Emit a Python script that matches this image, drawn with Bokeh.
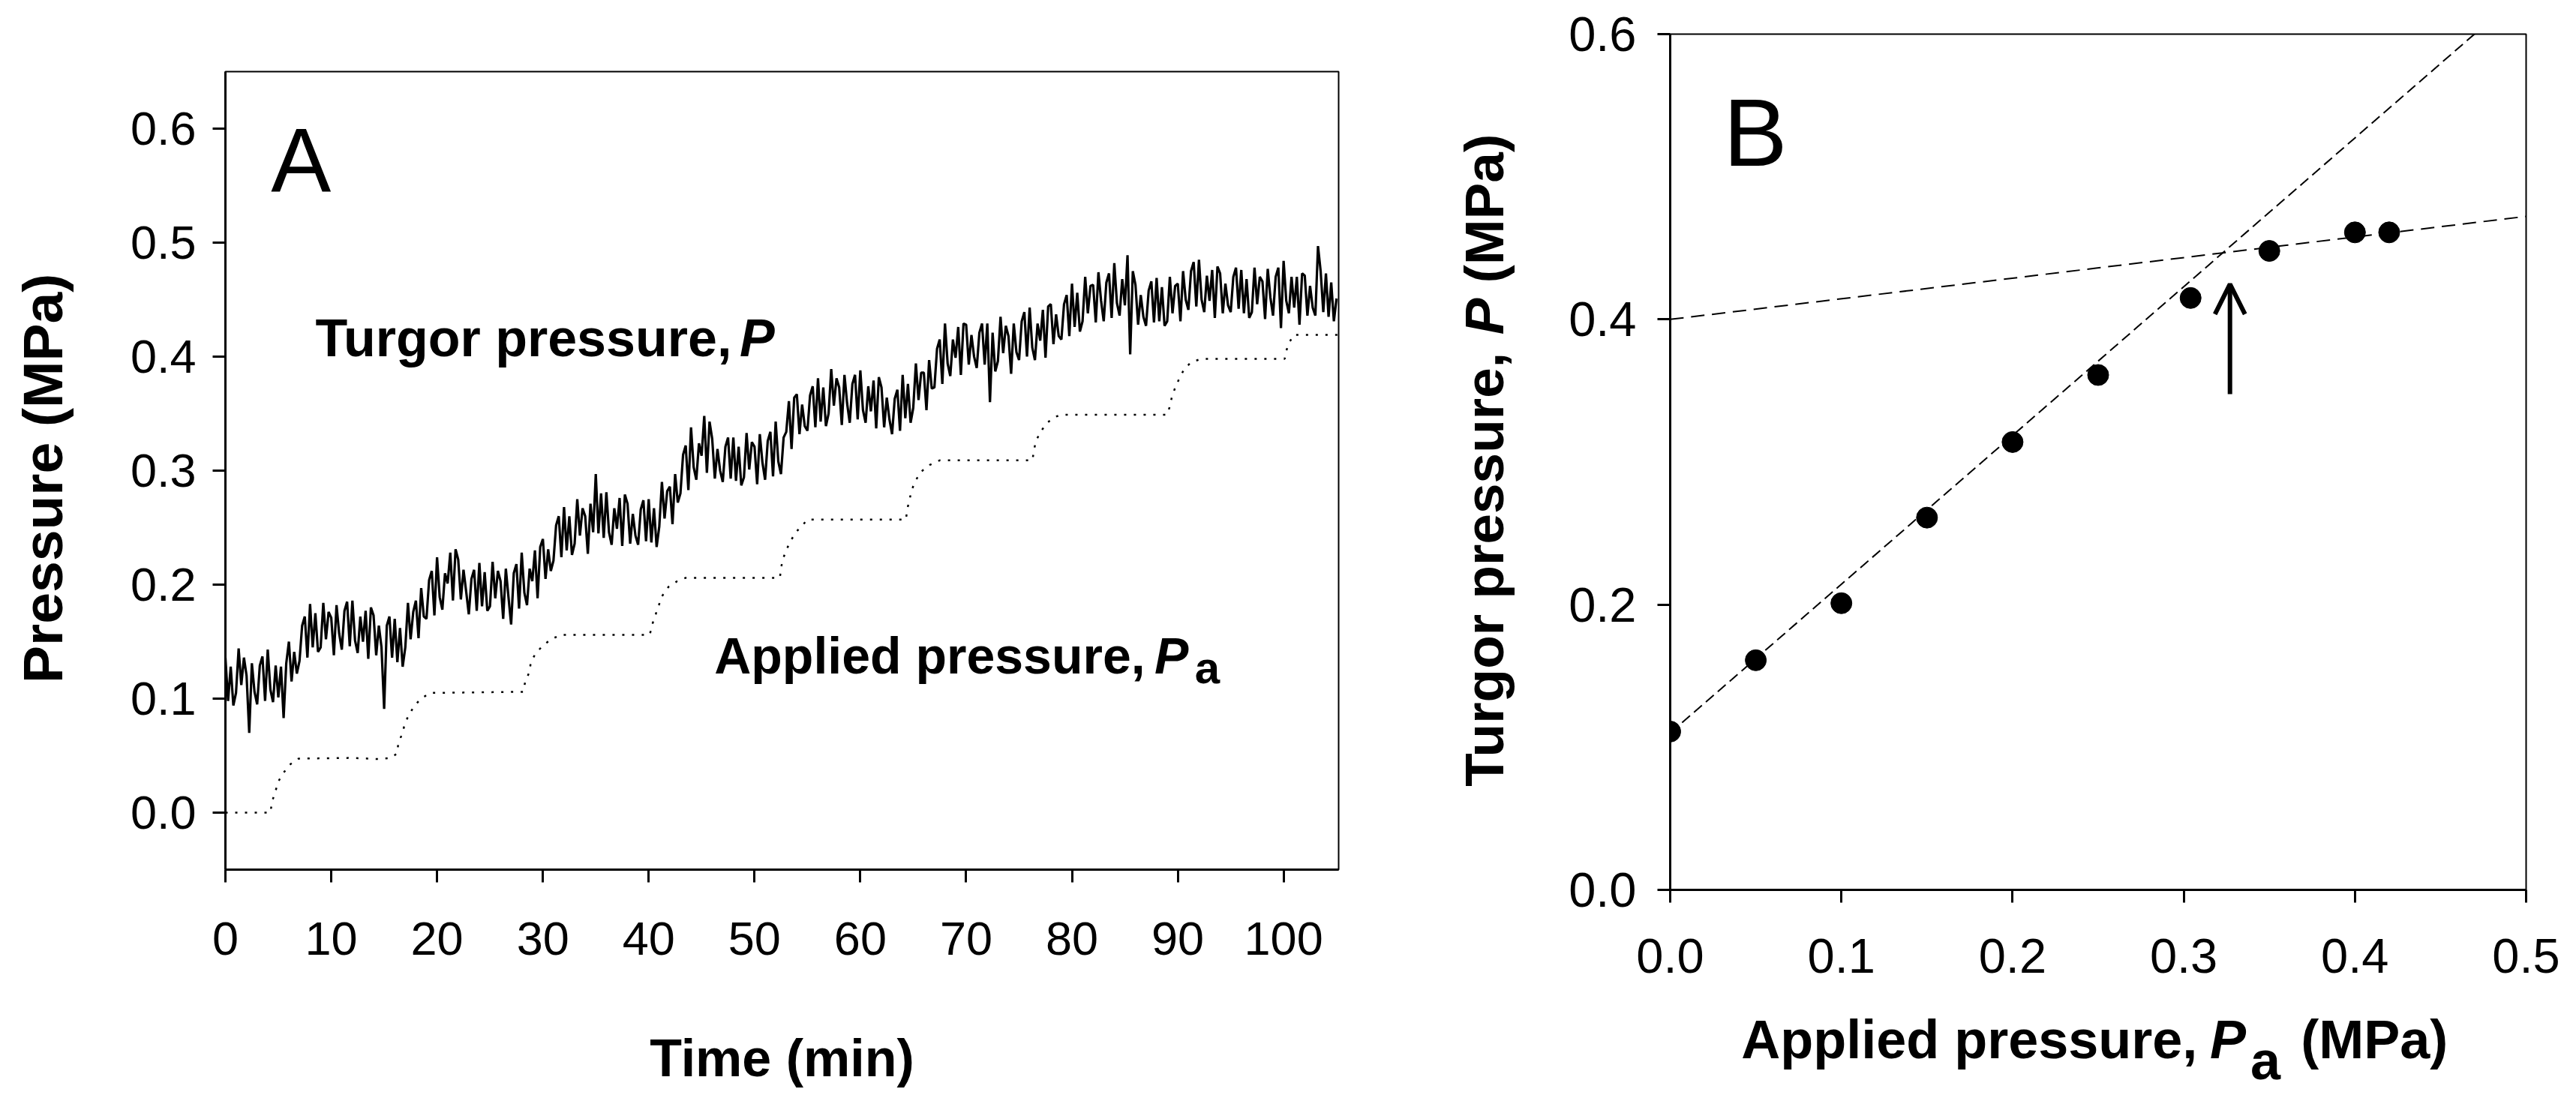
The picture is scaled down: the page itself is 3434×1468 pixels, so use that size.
import numpy as np
from bokeh.plotting import figure
from bokeh.layouts import row, column
from bokeh.models import Range1d, FixedTicker, PrintfTickFormatter, Label, Arrow, OpenHead
from bokeh.embed import file_html
from bokeh.resources import INLINE

FONT = "Liberation Sans"

# ---------------- Panel A data ----------------
# turgor pressure P (MPa), sampled every 0.25 min from 0 to 105 min
turgor = [
    .136, .098, .128, .094, .105, .144, .112, .136, .120, .070, .131, .106, .095, .129, .137, .098, .143, .108, .097, .129,
    .101, .128, .083, .131, .150, .115, .141, .122, .133, .164, .172, .136, .183, .145, .175, .141, .145, .184, .152, .176,
    .171, .138, .182, .157, .143, .177, .185, .146, .186, .151, .140, .172, .150, .177, .135, .180, .173, .138, .164, .145,
    .091, .164, .172, .136, .170, .132, .162, .128, .145, .184, .152, .176, .186, .153, .197, .172, .170, .204, .212, .173,
    .224, .189, .178, .210, .201, .228, .186, .231, .222, .187, .213, .194, .174, .205, .213, .177, .219, .181, .211, .177,
    .181, .220, .188, .212, .203, .170, .214, .189, .165, .210, .218, .179, .228, .193, .182, .214, .203, .230, .188, .233,
    .240, .205, .231, .212, .221, .252, .260, .224, .268, .230, .260, .226, .236, .275, .243, .267, .260, .227, .271, .246,
    .297, .245, .280, .241, .281, .246, .235, .267, .249, .276, .234, .279, .271, .236, .262, .243, .235, .266, .274, .238,
    .275, .237, .267, .233, .251, .290, .258, .282, .286, .253, .297, .272, .280, .314, .322, .283, .338, .303, .292, .324,
    .313, .348, .298, .343, .328, .293, .319, .300, .290, .321, .329, .293, .329, .291, .321, .287, .294, .333, .301, .325,
    .321, .288, .332, .307, .292, .326, .334, .295, .343, .308, .297, .329, .334, .361, .319, .364, .367, .332, .358, .339,
    .335, .366, .374, .338, .381, .343, .373, .339, .350, .389, .357, .381, .373, .340, .384, .359, .342, .376, .384, .345,
    .388, .353, .342, .374, .352, .379, .337, .382, .373, .338, .364, .345, .332, .363, .371, .335, .384, .346, .376, .342,
    .355, .394, .362, .386, .386, .353, .397, .372, .373, .407, .415, .376, .429, .394, .383, .415, .399, .426, .384, .429,
    .428, .393, .419, .400, .390, .421, .429, .393, .429, .360, .421, .387, .396, .435, .403, .427, .418, .385, .429, .404,
    .397, .431, .439, .400, .443, .408, .397, .429, .414, .441, .399, .444, .446, .411, .437, .418, .415, .446, .454, .418,
    .464, .426, .456, .422, .431, .470, .438, .462, .463, .430, .474, .449, .431, .465, .473, .434, .482, .447, .436, .468,
    .445, .489, .402, .475, .463, .428, .454, .435, .427, .458, .466, .430, .469, .431, .461, .427, .431, .470, .438, .462,
    .464, .431, .475, .450, .441, .475, .483, .444, .485, .450, .439, .471, .449, .476, .434, .479, .473, .438, .464, .445,
    .439, .470, .478, .442, .476, .438, .468, .434, .439, .478, .446, .470, .466, .433, .477, .452, .436, .470, .478, .425,
    .484, .449, .438, .470, .443, .470, .428, .473, .471, .436, .462, .443, .436, .497, .475, .439, .473, .435, .465, .431,
    .451,
]
time_step_min = 0.25
time_min = np.arange(len(turgor)) * time_step_min

# applied pressure Pa (MPa), breakpoints of the dotted staircase
applied_t = [0, 4.24, 4.44, 5.04, 5.52, 6.06, 6.91, 12.0, 14.5, 15.66,
             16.23, 16.34, 16.7, 16.93, 17.29, 17.81, 18.47, 19.37, 28.16,
             28.33, 28.71, 28.87, 29.27, 29.94, 30.76, 31.71, 40.1,
             40.37, 40.92, 41.27, 41.87, 42.69, 43.5, 52.4,
             52.5, 52.66, 53.0, 53.32, 53.91, 54.62, 54.98, 64.31,
             64.43, 64.66, 64.83, 65.14, 65.73, 66.56, 67.5, 76.25,
             76.41, 76.55, 77.02, 77.66, 78.37, 79.0, 89.0,
             89.2, 89.43, 89.72, 90.1, 90.6, 91.25, 92.2, 100.1,
             100.2, 100.58, 100.94, 105.2]
applied_v = [0, 0, .0105, .028, .0353, .0419, .0474, .048, .047, .048,
             .052, .061, .069, .077, .085, .093, .100, .105, .106,
             .115, .123, .132, .139, .146, .152, .156, .156,
             .166, .181, .190, .198, .203, .206, .206,
             .214, .222, .230, .237, .246, .253, .257, .257,
             .266, .275, .282, .290, .299, .305, .309, .309,
             .317, .325, .334, .342, .347, .349, .349,
             .355, .364, .372, .380, .389, .395, .398, .398,
             .404, .413, .419, .419]

a_xticks = [0, 10, 20, 30, 40, 50, 60, 70, 80, 90, 100]
a_yticks = [0.0, 0.1, 0.2, 0.3, 0.4, 0.5, 0.6]

# ---------------- Panel B data ----------------
pa_points = [0.0, 0.05, 0.10, 0.15, 0.20, 0.25, 0.304, 0.35, 0.40, 0.42]
p_points = [0.111, 0.161, 0.201, 0.261, 0.314, 0.361, 0.415, 0.448, 0.461, 0.461]
steep_fit = (0.110, 1.043)      # intercept, slope
shallow_fit = (0.400, 0.1444)   # intercept, slope
break_x = 0.327
b_xticks = [0.0, 0.1, 0.2, 0.3, 0.4, 0.5]
b_yticks = [0.0, 0.2, 0.4, 0.6]


def style_axes(p, tick_px, xstand, ystand):
    for ax in (p.xaxis[0], p.yaxis[0]):
        ax.axis_line_width = 3
        ax.axis_line_color = "black"
        ax.major_tick_line_width = 3
        ax.major_tick_in = 0
        ax.major_tick_out = 17
        ax.minor_tick_line_color = None
        ax.major_label_text_font = FONT
        ax.major_label_text_font_size = tick_px
        ax.major_label_text_color = "black"
        ax.axis_label_text_font = FONT
        ax.axis_label_text_font_style = "bold"
        ax.axis_label_text_color = "black"
    p.xaxis[0].major_label_standoff = xstand
    p.yaxis[0].major_label_standoff = ystand
    p.xgrid.grid_line_color = None
    p.ygrid.grid_line_color = None
    p.outline_line_color = "black"
    p.outline_line_width = 2
    p.background_fill_color = "white"
    p.border_fill_color = "white"


def blank(p):
    p.outline_line_color = None
    p.xgrid.grid_line_color = None
    p.ygrid.grid_line_color = None
    p.background_fill_color = "white"
    p.border_fill_color = "white"


def lbl(p, x, y, text, size, style="bold", angle=0.0):
    p.add_layout(Label(x=x, y=y, text=text, text_font=FONT, text_font_size=size,
                       text_font_style=style, text_color="black",
                       text_baseline="alphabetic", angle=angle))


# ---------------- Panel A ----------------
pA = figure(width=1860, height=1452, output_backend="svg", toolbar_location=None,
            x_range=Range1d(0, 105.2), y_range=Range1d(-0.05, 0.65),
            min_border_left=300, min_border_right=76, min_border_top=95, min_border_bottom=292)
style_axes(pA, "63px", 53, 22)
pA.xaxis.ticker = FixedTicker(ticks=a_xticks)
pA.yaxis.ticker = FixedTicker(ticks=a_yticks)
pA.yaxis.formatter = PrintfTickFormatter(format="%.1f")
pA.xaxis.axis_label = "Time (min)"
pA.yaxis.axis_label = "Pressure  (MPa)"
pA.xaxis.axis_label_text_font_size = "70px"
pA.yaxis.axis_label_text_font_size = "75px"
pA.xaxis.axis_label_standoff = 96
pA.yaxis.axis_label_standoff = 72

pA.line(time_min, turgor, line_color="black", line_width=3.2)
pA.line(applied_t, applied_v, line_color="black", line_width=2.5, line_dash="3 10")

lbl(pA, 4.3, 0.573, "A", "120px", style="normal")
lbl(pA, 8.5, 0.416, "Turgor pressure,", "70px")
lbl(pA, 48.6, 0.416, "P", "70px", style="bold italic")
lbl(pA, 46.2, 0.138, "Applied pressure,", "68px")
lbl(pA, 87.8, 0.138, "P", "68px", style="bold italic")
lbl(pA, 91.6, 0.127, "a", "60px")

# ---------------- Panel B ----------------
B_TOP, B_BOTTOM, B_LEFT, B_RIGHT = 45, 146, 194, 51
pB = figure(width=1386, height=1332, output_backend="svg", toolbar_location=None,
            x_range=Range1d(0, 0.5), y_range=Range1d(0, 0.6),
            min_border_left=B_LEFT, min_border_right=B_RIGHT,
            min_border_top=B_TOP, min_border_bottom=B_BOTTOM)
style_axes(pB, "65px", 48, 28)
pB.xaxis.ticker = FixedTicker(ticks=b_xticks)
pB.yaxis.ticker = FixedTicker(ticks=b_yticks)
pB.xaxis.formatter = PrintfTickFormatter(format="%.1f")
pB.yaxis.formatter = PrintfTickFormatter(format="%.1f")

fx = np.array([0.0, 0.5])
pB.line(fx, steep_fit[0] + steep_fit[1] * fx, line_color="black", line_width=2, line_dash="14 7")
pB.line(fx, shallow_fit[0] + shallow_fit[1] * fx, line_color="black", line_width=2, line_dash="18 10")
pB.scatter(pa_points, p_points, size=28, color="black")

pB.add_layout(Arrow(end=OpenHead(size=40, line_width=6, line_color="black"),
                    x_start=break_x, y_start=0.3476, x_end=break_x, y_end=0.4247,
                    line_width=6, line_color="black"))
lbl(pB, 0.031, 0.531, "B", "128px", style="normal")

# y-axis title strip of panel B (rotated text with italic P)
pBy = figure(width=172, height=1332, output_backend="svg", toolbar_location=None,
             x_range=Range1d(0, 172), y_range=Range1d(0, 0.6),
             x_axis_type=None, y_axis_type=None,
             min_border_left=0, min_border_right=0,
             min_border_top=B_TOP, min_border_bottom=B_BOTTOM)
blank(pBy)
ang = np.pi / 2
lbl(pBy, 118, 0.0725, "Turgor pressure,", "73px", angle=ang)
lbl(pBy, 118, 0.3892, "P", "73px", style="bold italic", angle=ang)
lbl(pBy, 118, 0.4254, "(MPa)", "73px", angle=ang)

# x-axis title strip of panel B (italic P with subscript a)
pBx = figure(width=1558, height=120, output_backend="svg", toolbar_location=None,
             x_range=Range1d(0, 0.5), y_range=Range1d(0, 120),
             x_axis_type=None, y_axis_type=None,
             min_border_left=172 + B_LEFT, min_border_right=B_RIGHT,
             min_border_top=0, min_border_bottom=0)
blank(pBx)
lbl(pBx, 0.0415, 67, "Applied pressure,", "72px")
lbl(pBx, 0.3153, 67, "P", "72px", style="bold italic")
lbl(pBx, 0.339, 39, "a", "72px")
lbl(pBx, 0.3684, 67, "(MPa)", "72px")

layout = row(pA, column(row(pBy, pB), pBx))
open("out.html", "w").write(file_html(layout, INLINE))
